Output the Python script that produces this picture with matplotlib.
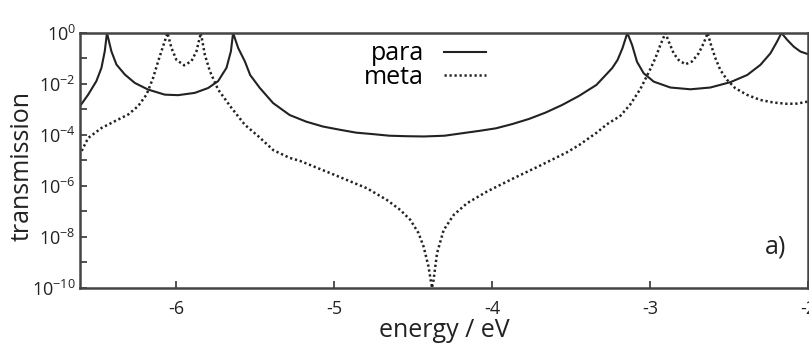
import numpy as np
import matplotlib
matplotlib.use("Agg")
import matplotlib.pyplot as plt
from matplotlib.ticker import FixedLocator, FuncFormatter

# energies (eV) and log10(transmission)
para_energy = [-6.61, -6.555, -6.503, -6.471, -6.45, -6.436, -6.408, -6.376,
               -6.323, -6.26, -6.176, -6.07, -5.986, -5.88, -5.796, -5.733,
               -5.68, -5.652, -5.638, -5.606, -5.564, -5.53, -5.47, -5.385,
               -5.28, -5.175, -5.07, -4.96, -4.86, -4.75, -4.65, -4.54, -4.43,
               -4.30, -4.185, -4.08, -3.975, -3.87, -3.765, -3.66, -3.555,
               -3.45, -3.34, -3.29, -3.24, -3.206, -3.175, -3.144, -3.114,
               -3.083, -3.041, -2.977, -2.872, -2.745, -2.619, -2.492, -2.386,
               -2.302, -2.239, -2.197, -2.169, -2.133, -2.091, -2.049, -1.997]
para_log = [-2.90, -2.42, -1.89, -1.37, -0.72, 0.0, -0.72, -1.24,
            -1.63, -1.96, -2.22, -2.42, -2.44, -2.35, -2.16, -1.89,
            -1.37, -0.72, 0.0, -0.59, -1.11, -1.65, -2.15, -2.75,
            -3.22, -3.48, -3.67, -3.80, -3.91, -3.97, -4.03, -4.05, -4.06,
            -4.03, -3.93, -3.84, -3.74, -3.57, -3.37, -3.12, -2.82,
            -2.47, -2.04, -1.71, -1.38, -1.06, -0.60, 0.0, -0.47,
            -1.13, -1.58, -1.91, -2.14, -2.21, -2.14, -1.93, -1.65,
            -1.25, -0.80, -0.34, 0.0, -0.27, -0.54, -0.73, -0.84]

meta_energy = [-6.61, -6.555, -6.471, -6.386, -6.302, -6.239, -6.186, -6.144,
               -6.112, -6.081, -6.053, -6.028, -5.997, -5.948, -5.902, -5.87,
               -5.842, -5.817, -5.785, -5.733, -5.648, -5.564, -5.479, -5.383,
               -5.28, -5.214, -5.003, -4.792, -4.665, -4.581, -4.517, -4.465,
               -4.433, -4.402, -4.38, -4.37, -4.348, -4.306, -4.243, -4.159,
               -4.032, -3.864, -3.695, -3.526, -3.45, -3.336, -3.273, -3.188,
               -3.125, -3.062, -3.005, -2.967, -2.935, -2.903, -2.882, -2.851,
               -2.82, -2.777, -2.735, -2.693, -2.661, -2.636, -2.615, -2.587,
               -2.556, -2.513, -2.461, -2.386, -2.302, -2.218, -2.133, -2.07,
               -2.00]
meta_log = [-4.80, -4.12, -3.73, -3.46, -3.20, -2.87, -2.42, -1.76,
            -1.11, -0.52, 0.0, -0.59, -1.05, -1.27, -1.11, -0.72,
            0.0, -0.85, -1.50, -2.22, -2.94, -3.60, -4.05, -4.60,
            -4.90, -5.02, -5.55, -6.09, -6.55, -6.94, -7.33, -7.85,
            -8.38, -9.16, -10.0, -9.69, -8.64, -7.73, -7.14, -6.68,
            -6.22, -5.70, -5.20, -4.68, -4.40, -3.90, -3.58, -3.25,
            -2.80, -2.20, -1.50, -0.99, -0.47, 0.0, -0.34, -0.80,
            -1.06, -1.23, -1.12, -0.80, -0.40, 0.0, -0.47, -0.99,
            -1.45, -1.84, -2.17, -2.43, -2.63, -2.73, -2.78, -2.77,
            -2.69]

x_ticks = [-6, -5, -4, -3, -2]
y_ticks = [1e-10, 1e-8, 1e-6, 1e-4, 1e-2, 1e0]
y_minor = [1e-9, 1e-7, 1e-5, 1e-3, 1e-1]

plt.rcParams['font.family'] = ['Open Sans', 'DejaVu Sans']
plt.rcParams['mathtext.fontset'] = 'custom'
plt.rcParams['mathtext.rm'] = 'Open Sans'
plt.rcParams['mathtext.it'] = 'Open Sans'

fig = plt.figure(figsize=(8.09, 3.49), dpi=100)
ax = fig.add_axes([0.099, 0.175, 0.9, 0.7306])

line_col = '#222222'
ax.semilogy(para_energy, 10.0 ** np.array(para_log), color=line_col, lw=1.5,
            label='para')
ax.semilogy(meta_energy, 10.0 ** np.array(meta_log), color=line_col, lw=1.8,
            linestyle=(0, (0.9, 1.1)), label='meta')

ax.set_xlim(-6.606, -2)
ax.set_ylim(1e-10, 1e0)

ax.xaxis.set_major_locator(FixedLocator(x_ticks))
ax.xaxis.set_major_formatter(FuncFormatter(lambda v, p: '%d' % v))
ax.yaxis.set_major_locator(FixedLocator(y_ticks))
ax.yaxis.set_minor_locator(FixedLocator(y_minor))
ax.yaxis.set_major_formatter(FuncFormatter(
    lambda v, p: r'$10^{%d}$' % int(round(np.log10(v)))))
ax.yaxis.set_minor_formatter(FuncFormatter(lambda v, p: ''))

ax.tick_params(which='both', direction='in', length=5, width=1.2,
               colors='#333333', labelsize=13, top=False, right=False)
ax.tick_params(axis='x', pad=9)
ax.tick_params(axis='y', pad=3)
for lab in ax.get_xticklabels() + ax.get_yticklabels():
    lab.set_color('#222222')

for s in ax.spines.values():
    s.set_linewidth(1.8)
    s.set_color('#444444')

ax.set_xlabel('energy / eV', fontsize=18, labelpad=0, color='#222222')
ax.set_ylabel('transmission', fontsize=18, color='#222222')
ax.yaxis.set_label_coords(-0.062, 0.478)

leg = ax.legend(loc='upper left', bbox_to_anchor=(0.359, 1.055),
                frameon=False, markerfirst=False, fontsize=18,
                handlelength=1.7, handletextpad=0.8, labelspacing=-0.05)

ax.text(0.97, 0.16, 'a)', transform=ax.transAxes, fontsize=18,
        ha='right', va='center', color='#222222')

fig.savefig('out.png', dpi=100)
